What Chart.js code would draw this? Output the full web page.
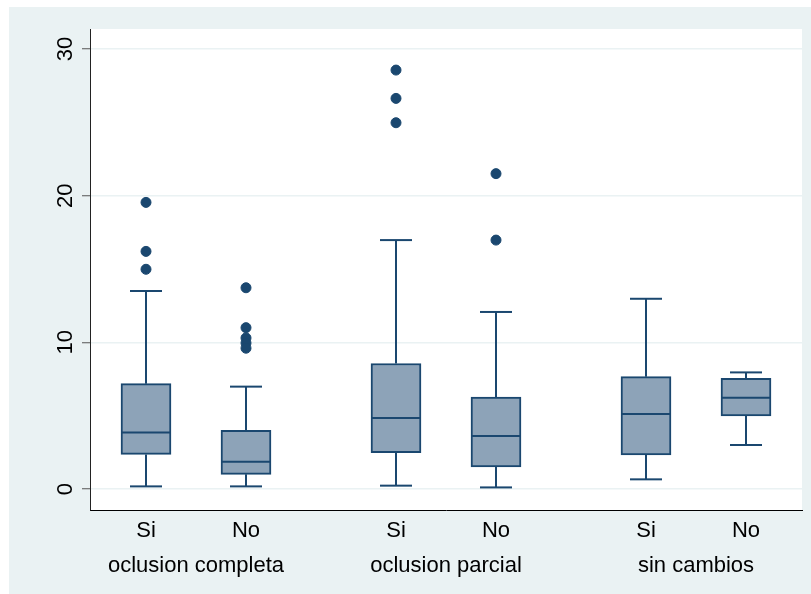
<!DOCTYPE html>
<html lang="es">
<head>
<meta charset="UTF-8">
<title>Box plot</title>
<style>
  body { margin: 0; background: #fff; }
  canvas { display: block; }
</style>
<script src="https://cdn.jsdelivr.net/npm/chart.js"></script>
</head>
<body>
<canvas id="chart" width="811" height="594"></canvas>
<script>
// datos
const groups = ['oclusion completa', 'oclusion parcial', 'sin cambios'];
const subLabels = ['Si', 'No', 'Si', 'No', 'Si', 'No'];
const whiskerLow = [0.18, 0.18, 0.23, 0.11, 0.66, 3.0];
const q1 = [2.36, 1.0, 2.48, 1.5, 2.32, 4.98];
const median = [3.86, 1.86, 4.84, 3.61, 5.11, 6.23];
const q3 = [7.18, 4.0, 8.56, 6.27, 7.66, 7.55];
const whiskerHigh = [13.5, 6.98, 16.97, 12.07, 12.97, 7.95];
const outliers = [
  [19.54, 16.2, 14.98],
  [13.72, 11.0, 10.3, 9.95, 9.6],
  [28.56, 26.63, 24.97],
  [21.5, 16.97],
  [],
  []
];
const yTicks = [0, 10, 20, 30];

// posicion de cada caja: 2 por grupo, con un hueco entre grupos
const boxX = subLabels.map((s, i) => 2 * i + Math.floor(i / 2) + 1);

const navy = '#1A476F';
const font = "22px 'Liberation Sans', Arial, sans-serif";

const boxParts = {
  id: 'boxParts',
  beforeDraw(chart) {
    const { ctx, chartArea: a } = chart;
    ctx.save();
    ctx.fillStyle = '#EAF2F3';
    ctx.fillRect(9, 7, chart.width - 9, chart.height - 7);
    ctx.fillStyle = '#fff';
    ctx.fillRect(a.left, a.top, a.right - a.left, a.bottom - a.top);
    ctx.restore();
  },
  beforeDatasetsDraw(chart) {
    // bigotes
    const { ctx, scales: { x, y } } = chart;
    ctx.save();
    ctx.strokeStyle = navy;
    ctx.lineWidth = 2;
    boxX.forEach((v, i) => {
      const px = Math.round(x.getPixelForValue(v));
      const line = (x1, y1, x2, y2) => {
        ctx.beginPath(); ctx.moveTo(x1, y1); ctx.lineTo(x2, y2); ctx.stroke();
      };
      const hi = y.getPixelForValue(whiskerHigh[i]);
      const lo = y.getPixelForValue(whiskerLow[i]);
      line(px, y.getPixelForValue(q3[i]), px, hi);
      line(px, y.getPixelForValue(q1[i]), px, lo);
      line(px - 16, hi, px + 16, hi);
      line(px - 16, lo, px + 16, lo);
    });
    ctx.restore();
  },
  afterDatasetsDraw(chart) {
    // medianas
    const { ctx, scales: { x, y } } = chart;
    ctx.save();
    ctx.strokeStyle = navy;
    ctx.lineWidth = 2;
    boxX.forEach((v, i) => {
      const px = x.getPixelForValue(v);
      const py = y.getPixelForValue(median[i]);
      ctx.beginPath(); ctx.moveTo(px - 24, py); ctx.lineTo(px + 24, py); ctx.stroke();
    });
    ctx.restore();
  },
  afterDraw(chart) {
    const { ctx, scales: { x, y } } = chart;
    ctx.save();
    ctx.fillStyle = '#000';
    ctx.font = font;
    // etiquetas del eje y, giradas
    ctx.textAlign = 'center';
    ctx.textBaseline = 'alphabetic';
    yTicks.forEach(t => {
      ctx.save();
      ctx.translate(72, y.getPixelForValue(t));
      ctx.rotate(-Math.PI / 2);
      ctx.fillText(String(t), 0, 0);
      ctx.restore();
    });
    // etiquetas del eje x
    subLabels.forEach((s, i) => {
      ctx.fillText(s, x.getPixelForValue(boxX[i]), 537);
    });
    groups.forEach((g, k) => {
      const cx = (x.getPixelForValue(boxX[2 * k]) + x.getPixelForValue(boxX[2 * k + 1])) / 2;
      ctx.fillText(g, cx, 572);
    });
    ctx.restore();
  }
};

new Chart(document.getElementById('chart'), {
  type: 'bar',
  data: {
    datasets: [{
      data: boxX.map((v, i) => ({ x: v, y: [q1[i], q3[i]] })),
      backgroundColor: '#8DA3B8',
      borderColor: navy,
      borderWidth: 2,
      borderSkipped: false,
      barThickness: 50,
      order: 2
    }, {
      type: 'scatter',
      data: outliers.flatMap((arr, i) => arr.map(v => ({ x: boxX[i], y: v }))),
      backgroundColor: navy,
      borderColor: navy,
      pointRadius: 5,
      order: 1
    }]
  },
  options: {
    responsive: false,
    animation: false,
    layout: { padding: { top: 29, right: 9, left: 0, bottom: 0 } },
    plugins: { legend: { display: false }, tooltip: { enabled: false } },
    scales: {
      x: {
        type: 'linear',
        min: -0.12,
        max: 14.12,
        offset: false,
        grid: { display: false },
        ticks: { display: false },
        border: { display: true, color: '#000', width: 1 },
        afterFit: s => { s.height = 84; }
      },
      y: {
        min: -1.43,
        max: 31.36,
        afterBuildTicks: s => { s.ticks = yTicks.map(v => ({ value: v })); },
        ticks: { display: false },
        grid: { color: '#EAF2F3', lineWidth: 1.5, tickColor: '#555', tickLength: 8, tickWidth: 1 },
        border: { display: true, color: '#222', width: 1 },
        afterFit: s => { s.width = 90; }
      }
    }
  },
  plugins: [boxParts]
});
</script>
</body>
</html>
